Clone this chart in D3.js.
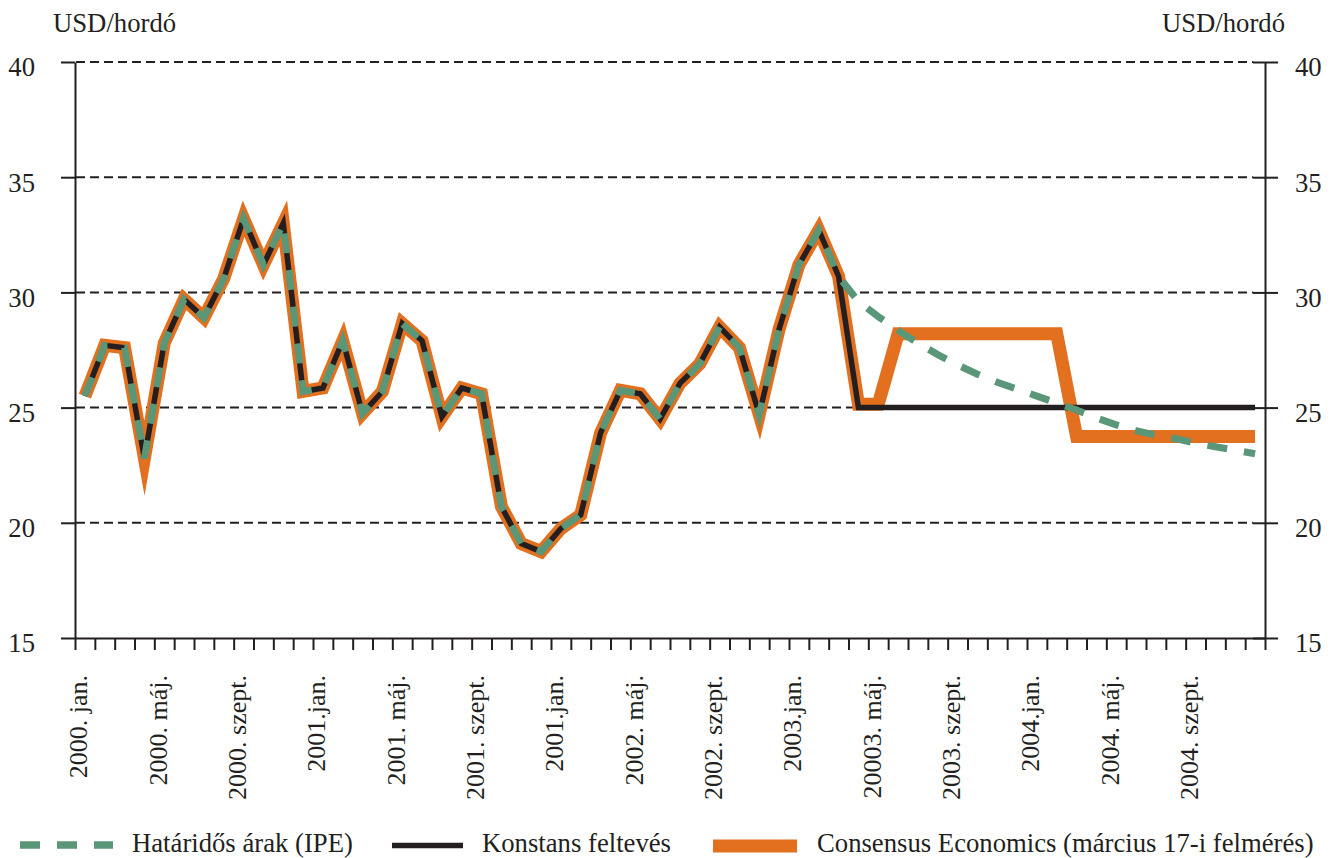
<!DOCTYPE html>
<html>
<head>
<meta charset="utf-8">
<script src="https://cdn.jsdelivr.net/npm/d3@7"></script>
<style>
  body { margin: 0; background: #fff; }
  svg { font-family: "Liberation Serif", "Times New Roman", serif; }
</style>
</head>
<body>
<svg id="graph" width="1336" height="858"></svg>
<script>
// Months 2000 jan .. 2004 dec (index 0..59)
const monthCount = 60;
const labelStep = 4;
const xTickLabels = [
  "2000. jan.", "2000. máj.", "2000. szept.", "2001.jan.", "2001. máj.",
  "2001. szept.", "2001.jan.", "2002. máj.", "2002. szept.", "2003.jan.",
  "20003. máj.", "2003. szept.", "2004.jan.", "2004. máj.", "2004. szept."
];
const yTicks = [15, 20, 25, 30, 35, 40];
const unitLabel = "USD/hordó";

// Observed prices, months 0..38
const historyValues = [
  25.5, 27.7, 27.6, 22.8, 27.8, 29.7, 28.9, 30.6, 33.2, 31.2,
  33.0, 25.7, 25.85, 27.9, 24.75, 25.7, 28.65, 27.9, 24.6, 25.85,
  25.6, 20.7, 19.1, 18.75, 19.75, 20.35, 23.9, 25.75, 25.6, 24.5,
  26.05, 26.9, 28.5, 27.6, 24.7, 28.4, 31.2, 32.7, 30.7
];

// Forecasts, months 38..59
const forecastStart = 38;
const futuresForecast = [
  30.7, 29.6, 28.95, 28.35, 27.8, 27.3, 26.85, 26.45, 26.1, 25.8, 25.5,
  25.2, 24.9, 24.55, 24.25, 24.0, 23.8, 23.65, 23.45, 23.3, 23.15, 23.0
];
const constantForecast = [
  30.7, 25.0, 25.0, 25.0, 25.0, 25.0, 25.0, 25.0, 25.0, 25.0, 25.0,
  25.0, 25.0, 25.0, 25.0, 25.0, 25.0, 25.0, 25.0, 25.0, 25.0, 25.0
];
const consensusForecast = [
  30.7, 25.15, 25.15, 28.2, 28.2, 28.2, 28.2, 28.2, 28.2, 28.2, 28.2,
  28.2, 23.75, 23.75, 23.75, 23.75, 23.75, 23.75, 23.75, 23.75, 23.75, 23.75
];

const seriesNames = [
  "Határidős árak (IPE)",
  "Konstans feltevés",
  "Consensus Economics (március 17-i felmérés)"
];

const colors = { green: "#5A9678", black: "#231F20", orange: "#E2701F" };

const buildSeries = (forecast) =>
  historyValues
    .slice(0, forecastStart)
    .map((v, i) => ({ month: i, value: v }))
    .concat(forecast.map((v, i) => ({ month: forecastStart + i, value: v })));

const svg = d3.select("#graph");

// Scales
const x = d3.scaleLinear().domain([0, monthCount]).range([75, 1265]);
const y = d3.scaleLinear().domain([15, 40]).range([638, 62]);

// Dashed gridlines
svg
  .append("g")
  .selectAll("line")
  .data(yTicks.filter((d) => d > 15))
  .enter()
  .append("line")
  .attr("x1", 76)
  .attr("x2", 1253)
  .attr("y1", (d) => y(d))
  .attr("y2", (d) => y(d))
  .attr("stroke", colors.black)
  .attr("stroke-width", 2)
  .attr("stroke-dasharray", "9,5");

// Left axis
const leftAxis = svg
  .append("g")
  .attr("transform", `translate(${x(0)},0)`)
  .call(d3.axisLeft(y).tickValues(yTicks).tickSize(14).tickSizeOuter(0).tickPadding(26));

// Right axis
const rightAxis = svg
  .append("g")
  .attr("transform", `translate(${x(monthCount)},0)`)
  .call(d3.axisRight(y).tickValues(yTicks).tickSize(13).tickSizeOuter(0).tickPadding(17));
rightAxis.selectAll(".tick line").attr("x1", -12);

// Bottom axis with monthly ticks
const bottomAxis = svg
  .append("g")
  .attr("transform", `translate(0,${y(15)})`)
  .call(
    d3.axisBottom(x)
      .tickValues(d3.range(monthCount + 1))
      .tickSize(12)
      .tickSizeOuter(0)
      .tickFormat("")
  );

[leftAxis, rightAxis, bottomAxis].forEach((axis) => {
  axis.selectAll("path, line").attr("stroke", colors.black).attr("stroke-width", 2);
  axis
    .selectAll("text")
    .attr("fill", colors.black)
    .attr("font-size", 26.7)
    .attr("font-family", "Liberation Serif, serif")
    .attr("dy", "0.52em");
});

// Rotated month labels
svg
  .append("g")
  .selectAll("text")
  .data(xTickLabels)
  .enter()
  .append("text")
  .attr("transform", (d, i) => `translate(${x(i * labelStep + 0.5) + 2.5},675) rotate(-90)`)
  .attr("text-anchor", "end")
  .attr("font-size", 26)
  .attr("fill", colors.black)
  .text((d) => d);

// Unit labels
svg.append("text").attr("x", 53).attr("y", 32).attr("font-size", 26.7)
  .attr("fill", colors.black).text(unitLabel);
svg.append("text").attr("x", 1285).attr("y", 32).attr("font-size", 26.7)
  .attr("text-anchor", "end").attr("fill", colors.black).text(unitLabel);

// Lines
const lineGen = d3
  .line()
  .x((d) => x(d.month + 0.5))
  .y((d) => y(d.value));

const lines = svg.append("g").attr("fill", "none");

lines
  .append("path")
  .datum(buildSeries(consensusForecast))
  .attr("d", lineGen)
  .attr("stroke", colors.orange)
  .attr("stroke-width", 13)
  .attr("stroke-linejoin", "miter")
  .attr("stroke-miterlimit", 10);

lines
  .append("path")
  .datum(buildSeries(constantForecast))
  .attr("d", lineGen)
  .attr("stroke", colors.black)
  .attr("stroke-width", 5.5)
  .attr("stroke-linejoin", "miter");

lines
  .append("path")
  .datum(buildSeries(futuresForecast))
  .attr("d", lineGen)
  .attr("stroke", colors.green)
  .attr("stroke-width", 7)
  .attr("stroke-dasharray", "20,17");

// Legend
const legend = svg.append("g").attr("id", "legend");
const legendItems = [
  { name: seriesNames[0], x1: 20, x2: 113, yy: 845, color: colors.green, width: 7.5, dash: "20,17", tx: 132 },
  { name: seriesNames[1], x1: 392, x2: 463, yy: 845.5, color: colors.black, width: 5.5, dash: null, tx: 482 },
  { name: seriesNames[2], x1: 713, x2: 797, yy: 846, color: colors.orange, width: 13, dash: null, tx: 817 }
];
legendItems.forEach((item) => {
  legend
    .append("line")
    .attr("x1", item.x1)
    .attr("x2", item.x2)
    .attr("y1", item.yy)
    .attr("y2", item.yy)
    .attr("stroke", item.color)
    .attr("stroke-width", item.width)
    .attr("stroke-dasharray", item.dash);
  legend
    .append("text")
    .attr("x", item.tx)
    .attr("y", 852)
    .attr("font-size", 26.7)
    .attr("fill", colors.black)
    .text(item.name);
});
</script>
</body>
</html>
